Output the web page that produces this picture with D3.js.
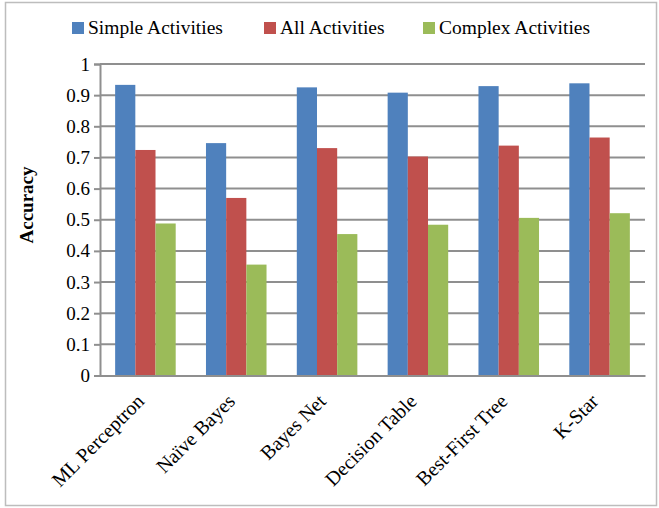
<!DOCTYPE html>
<html>
<head>
<meta charset="utf-8">
<script src="https://cdn.jsdelivr.net/npm/d3@7"></script>
<style>
  body { margin: 0; background: #fff; }
  text { font-family: "Liberation Serif", "Times New Roman", serif; fill: #000; }
</style>
</head>
<body>
<svg id="chart" width="659" height="508"></svg>
<script>
// data
var categories = ['ML Perceptron', 'Naïve Bayes', 'Bayes Net', 'Decision Table', 'Best-First Tree', 'K-Star'];
var seriesNames = ['Simple Activities', 'All Activities', 'Complex Activities'];
var simpleActivities  = [0.933, 0.746, 0.925, 0.908, 0.929, 0.938];
var allActivities     = [0.724, 0.570, 0.730, 0.703, 0.738, 0.764];
var complexActivities = [0.488, 0.356, 0.454, 0.484, 0.506, 0.521];
var yTicks = [0, 0.1, 0.2, 0.3, 0.4, 0.5, 0.6, 0.7, 0.8, 0.9, 1];
var colors = ['#4F81BD', '#C0504D', '#9BBB59'];

var seriesValues = [simpleActivities, allActivities, complexActivities];

var svg = d3.select('#chart');

// outer frame
svg.append('rect')
    .attr('x', 5.5).attr('y', 2.5)
    .attr('width', 651).attr('height', 503)
    .attr('fill', 'none')
    .attr('stroke', '#bdbdbd')
    .attr('stroke-width', 1.5);

// plot box (note: "top" is taken by window.top, so use other names)
var plotLeft = 100, plotRight = 645, plotTop = 64, plotBottom = 375.5;

var y = d3.scaleLinear().domain([0, 1]).range([plotBottom, plotTop]);
var x0 = d3.scaleBand().domain(categories).range([plotLeft, plotRight]);
var bw = x0.bandwidth();
var x1 = d3.scaleBand().domain(seriesNames).range([bw / 6, bw - bw / 6]);

// gridlines
svg.append('g')
    .selectAll('line')
    .data(yTicks.slice(1))
    .join('line')
    .attr('x1', plotLeft).attr('x2', plotRight)
    .attr('y1', function (d) { return y(d); })
    .attr('y2', function (d) { return y(d); })
    .attr('stroke', '#8f8f8f')
    .attr('stroke-width', 2);

// bars
var groups = svg.append('g')
    .selectAll('g')
    .data(categories)
    .join('g')
    .attr('transform', function (c) { return 'translate(' + x0(c) + ',0)'; });

groups.selectAll('rect')
    .data(function (c, i) {
        return seriesNames.map(function (s, j) {
            return { series: s, value: seriesValues[j][i], color: colors[j] };
        });
    })
    .join('rect')
    .attr('x', function (d) { return x1(d.series); })
    .attr('width', x1.bandwidth())
    .attr('y', function (d) { return y(d.value); })
    .attr('height', function (d) { return plotBottom - y(d.value); })
    .attr('fill', function (d) { return d.color; });

// y axis
var yAxis = svg.append('g')
    .attr('transform', 'translate(' + plotLeft + ',0)')
    .call(d3.axisLeft(y).tickValues(yTicks).tickFormat(d3.format('')).tickSize(6).tickPadding(4));
yAxis.select('.domain').attr('stroke', '#8f8f8f').attr('stroke-width', 2);
yAxis.selectAll('.tick line').attr('stroke', '#8f8f8f').attr('stroke-width', 2);
yAxis.selectAll('.tick text')
    .style('font-family', '"Liberation Serif", serif')
    .style('font-size', '19px')
    .attr('fill', '#000');

// x axis
var xAxis = svg.append('g')
    .attr('transform', 'translate(0,' + plotBottom + ')')
    .call(d3.axisBottom(x0).tickSize(0).tickPadding(0));
xAxis.select('.domain').attr('stroke', '#8f8f8f').attr('stroke-width', 2);
xAxis.selectAll('.tick text')
    .style('font-family', '"Liberation Serif", serif')
    .style('font-size', '20px')
    .attr('fill', '#000')
    .attr('text-anchor', 'end')
    .attr('dy', null)
    .attr('y', 0)
    .attr('transform', 'translate(0,27) rotate(-45)');

// axis title
svg.append('text')
    .attr('transform', 'translate(33,205) rotate(-90)')
    .attr('text-anchor', 'middle')
    .style('font-size', '19px')
    .style('font-weight', 'bold')
    .text('Accuracy');

// legend
var legendX = [72, 264, 423];
var legend = svg.append('g')
    .selectAll('g')
    .data(seriesNames)
    .join('g')
    .attr('transform', function (d, i) { return 'translate(' + legendX[i] + ',22)'; });
legend.append('rect')
    .attr('width', 12).attr('height', 12)
    .attr('fill', function (d, i) { return colors[i]; });
legend.append('text')
    .attr('x', 16).attr('y', 12)
    .style('font-size', '19.5px')
    .text(function (d) { return d; });
</script>
</body>
</html>
